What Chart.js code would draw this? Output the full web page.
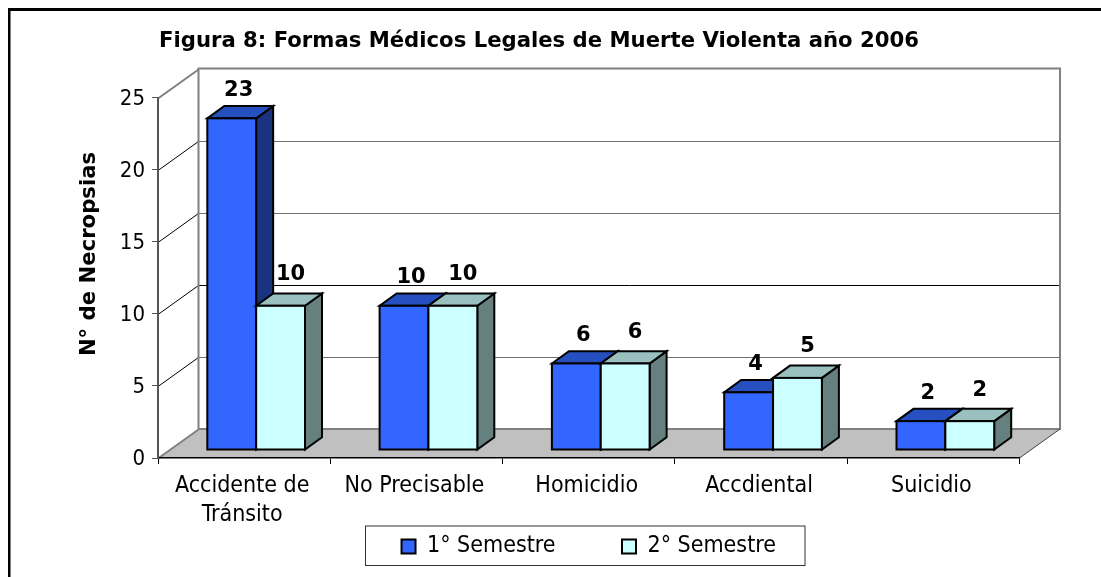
<!DOCTYPE html>
<html><head><meta charset="utf-8">
<style>html,body{margin:0;padding:0;background:#fff;overflow:hidden}canvas{display:block}</style>
<script src="https://cdn.jsdelivr.net/npm/chart.js@4/dist/chart.umd.min.js"></script>
</head><body>
<canvas id="c" width="1101" height="577"></canvas>
<script>
const categories = [["Accidente de","Tránsito"],"No Precisable","Homicidio","Accdiental","Suicidio"];
const semestre1 = [23,10,6,4,2];
const semestre2 = [10,10,6,5,2];
const yTicks = [0,5,10,15,20,25];
const chartTitle = "Figura 8: Formas Médicos Legales de Muerte Violenta año 2006";
const yTitle = "N° de Necropsias";

const REG = '"DejaVu Sans Condensed","DejaVu Sans",sans-serif';
const BOLD = '"DejaVu Sans","Liberation Sans",sans-serif';
const WALL = {dx:40.5, dy:-29};
const SHIFT = {dx:12, dy:-8};
const DEPTH = {dx:17, dy:-12.3};
const FACES = [{top:'#2650C0',side:'#19337F'},{top:'#99BFBF',side:'#667F7F'}];

function poly(ctx,pts,fill,stroke,lw){
  ctx.beginPath();
  pts.forEach((p,i)=>i?ctx.lineTo(p[0],p[1]):ctx.moveTo(p[0],p[1]));
  ctx.closePath();
  if(fill){ctx.fillStyle=fill;ctx.fill();}
  if(stroke){ctx.strokeStyle=stroke;ctx.lineWidth=lw;ctx.lineJoin='miter';ctx.stroke();}
}

const scene3d = {
  id:'scene3d',
  beforeLayout(chart){
    const l=chart.legend;
    if(l && !l._fixedFit){
      const f=l.fit;
      l.fit=function(){f.call(this);this.height=40;};
      l._fixedFit=true;
    }
  },
  afterLayout(chart){
    const t=chart.titleBlock; t.left=0; t.right=1078; t.top=28.5; t.bottom=62;
    const l=chart.legend;
    l.left=0; l.right=1177.5; l.top=468.5; l.bottom=577;
    if(l.adjustHitBoxes) l.adjustHitBoxes();
  },
  beforeDraw(chart){
    const {ctx,chartArea:a,scales:{y}}=chart;
    ctx.save();
    ctx.fillStyle='#000';
    ctx.fillRect(8,8,1093,3);
    ctx.fillRect(8,8,2.5,569);
    const b=a.bottom,l=a.left,r=a.right,dx=WALL.dx,dy=WALL.dy;
    poly(ctx,[[l,b],[l+dx,b+dy],[r+dx,b+dy],[r,b]],'#C0C0C0');
    yTicks.forEach(v=>{
      const p=Math.round(y.getPixelForValue(v))+0.5;
      if(v>0&&v<25){
        ctx.strokeStyle=v===10?'#000':'#707070';ctx.lineWidth=1;
        ctx.beginPath();ctx.moveTo(l+dx,p+dy);ctx.lineTo(r+dx,p+dy);ctx.stroke();
      }
      ctx.strokeStyle=v===25||v===0?'#808080':'#000';ctx.lineWidth=v===25||v===0?2:1;
      ctx.beginPath();ctx.moveTo(l,p);ctx.lineTo(l+dx,p+dy);ctx.stroke();
    });
    ctx.strokeStyle='#808080';ctx.lineWidth=2;
    const t=y.getPixelForValue(25);
    ctx.beginPath();ctx.moveTo(l+dx,b+dy);ctx.lineTo(l+dx,t+dy);ctx.lineTo(r+dx,t+dy);ctx.lineTo(r+dx,b+dy);ctx.lineTo(l+dx,b+dy);ctx.stroke();
    ctx.strokeStyle='#404040';ctx.lineWidth=1;
    ctx.beginPath();ctx.moveTo(r,b);ctx.lineTo(r+dx,b+dy);ctx.stroke();
    ctx.strokeStyle='#333';ctx.lineWidth=1;
    ctx.strokeRect(365.5,526,439.5,39.5);
    ctx.restore();
  },
  beforeDatasetsDraw(chart){
    const ctx=chart.ctx;
    [0,1].forEach(i=>{
      const meta=chart.getDatasetMeta(i);
      meta.data.forEach(el=>{
        const hw=el.width/2, x0=el.x-hw+SHIFT.dx, x1=el.x+hw+SHIFT.dx;
        const yt=el.y+SHIFT.dy, yb=el.base+SHIFT.dy, dx=DEPTH.dx, dy=DEPTH.dy;
        poly(ctx,[[x1,yt],[x1+dx,yt+dy],[x1+dx,yb+dy],[x1,yb]],FACES[i].side,'#000',2);
        poly(ctx,[[x0,yt],[x0+dx,yt+dy],[x1+dx,yt+dy],[x1,yt]],FACES[i].top,'#000',2);
        ctx.save();ctx.translate(SHIFT.dx,SHIFT.dy);
        el.draw(ctx);
        ctx.restore();
        ctx.strokeStyle='#000';ctx.lineWidth=2;
        ctx.strokeRect(x0,yt,x1-x0,yb-yt);
      });
    });
    return false;
  },
  afterDraw(chart){
    const ctx=chart.ctx;
    ctx.save();
    ctx.font='bold 21.2px '+BOLD;ctx.fillStyle='#000';ctx.textAlign='center';ctx.textBaseline='middle';
    ctx.translate(89,254);ctx.rotate(-Math.PI/2);
    ctx.fillText(chart.options.scales.y.title.text,0,0);
    ctx.restore();
    ctx.save();
    ctx.font='bold 21px '+BOLD;ctx.fillStyle='#000';ctx.textAlign='center';ctx.textBaseline='middle';
    [0,1].forEach(i=>{
      chart.getDatasetMeta(i).data.forEach((el,j)=>{
        ctx.fillText(String(chart.data.datasets[i].data[j]),el.x+SHIFT.dx+(i?10:7),el.y+SHIFT.dy-(i?31:28));
      });
    });
    ctx.restore();
  }
};

new Chart(document.getElementById('c'),{
  type:'bar',
  data:{labels:categories,datasets:[
    {label:'1° Semestre',data:semestre1,backgroundColor:'#3366FF',borderWidth:0,categoryPercentage:0.567,barPercentage:1},
    {label:'2° Semestre',data:semestre2,backgroundColor:'#CCFFFF',borderWidth:0,categoryPercentage:0.567,barPercentage:1}
  ]},
  plugins:[scene3d],
  options:{
    responsive:false,animation:false,
    layout:{padding:{left:8,right:81.5,top:72.06,bottom:0}},
    plugins:{
      tooltip:{enabled:false},
      title:{display:true,text:chartTitle,color:'#000',font:{family:BOLD,size:21.2,weight:'bold'},padding:0},
      legend:{position:'bottom',labels:{
        font:{family:REG,size:23},color:'#000',boxWidth:14,boxHeight:14,padding:66.5,
        generateLabels(chart){
          return chart.data.datasets.map((d,i)=>({text:d.label,fillStyle:d.backgroundColor,strokeStyle:'#000',lineWidth:2,datasetIndex:i,hidden:false}));
        }
      }}
    },
    scales:{
      x:{
        afterFit(s){s.height=79;},
        grid:{display:true,drawOnChartArea:false,drawTicks:true,tickLength:6,color:'#000'},
        border:{display:true,color:'#000',width:1.5},
        ticks:{color:'#000',font:{family:REG,size:23,lineHeight:1.25},maxRotation:0,autoSkip:false,padding:8,labelOffset:-2}
      },
      y:{
        min:0,max:25,
        afterFit(s){s.width=150;},
        title:{display:false,text:yTitle},
        grid:{display:true,drawOnChartArea:false,drawTicks:true,tickLength:6,color:'#555'},
        border:{display:true,color:'#555',width:2},
        ticks:{stepSize:5,color:'#000',font:{family:REG,size:22},padding:7,labelOffset:1.5}
      }
    }
  }
});
</script>
</body></html>
